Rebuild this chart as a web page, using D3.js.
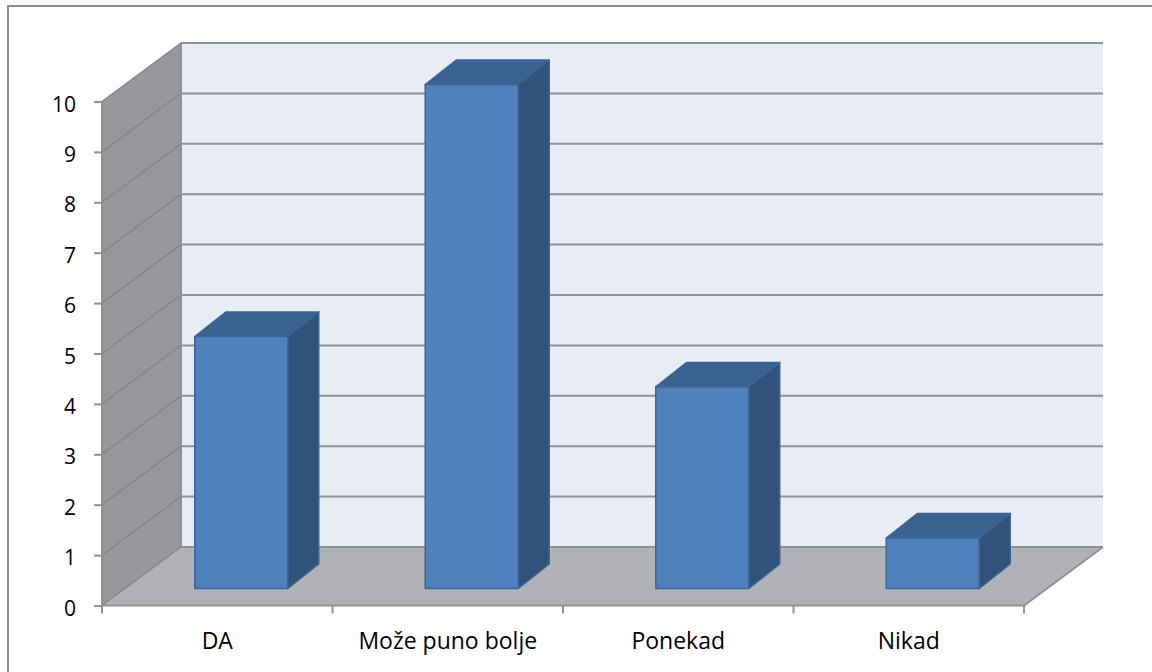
<!DOCTYPE html>
<html><head><meta charset="utf-8">
<script src="https://cdn.jsdelivr.net/npm/d3@7"></script>
<style>html,body{margin:0;padding:0;background:#fff}svg{display:block}text{font-family:"Open Sans",sans-serif;fill:#000}</style>
</head><body><svg id="c" width="1152" height="672"></svg>
<script>
const categories = ["DA", "Može puno bolje", "Ponekad", "Nikad"];
const values = [5, 10, 4, 1];
const yTicks = [0,1,2,3,4,5,6,7,8,9,10];

const svg = d3.select("#c");
const y = d3.scaleLinear().domain([0,10]).range([605.5,101.5]);
const x = d3.scaleBand().domain(categories).range([102,1024]).paddingInner(0).paddingOuter(0);
const depth = {dx:79, dy:-58.5};
const grid = "#8f9092";
const x0 = x.range()[0], x1 = x.range()[1];
const poly = (pts,fill)=>svg.append("polygon").attr("points",pts.map(p=>p.join(",")).join(" ")).attr("fill",fill);

// chart frame
svg.append("path").attr("fill","none").attr("stroke","#8a8a8a").attr("stroke-width",2)
  .attr("d","M8,672V6H1152");

// back wall, side wall, floor
poly([[x0+depth.dx,y(10)+depth.dy],[x1+depth.dx,y(10)+depth.dy],[x1+depth.dx,y(0)+depth.dy],[x0+depth.dx,y(0)+depth.dy]],"#e8ecf5");
poly([[x0,y(0)],[x0,y(10)],[x0+depth.dx,y(10)+depth.dy],[x0+depth.dx,y(0)+depth.dy]],"#96979a");
poly([[x0,y(0)],[x1,y(0)],[x1+depth.dx,y(0)+depth.dy],[x0+depth.dx,y(0)+depth.dy]],"#b0b2b6");

// gridlines
yTicks.forEach(t=>{
  svg.append("line").attr("stroke","#858688").attr("stroke-width",1.5)
    .attr("x1",x0).attr("y1",y(t)).attr("x2",x0+depth.dx).attr("y2",y(t)+depth.dy);
  svg.append("line").attr("stroke",grid).attr("stroke-width",2)
    .attr("x1",x0+depth.dx).attr("y1",y(t)+depth.dy).attr("x2",x1+depth.dx).attr("y2",y(t)+depth.dy);
});
svg.append("line").attr("x1",x0+depth.dx).attr("x2",x0+depth.dx).attr("y1",y(10)+depth.dy).attr("y2",y(0)+depth.dy).attr("stroke",grid).attr("stroke-width",2);
svg.append("line").attr("x1",x0).attr("x2",x0).attr("y1",y(10)).attr("y2",y(0)).attr("stroke",grid).attr("stroke-width",2);
svg.append("path").attr("fill","none").attr("stroke",grid).attr("stroke-width",2)
  .attr("d",`M${x0},${y(0)}L${x1},${y(0)}L${x1+depth.dx},${y(0)+depth.dy}`);

// axes
const ay = svg.append("g").attr("transform",`translate(${x0},0)`)
  .call(d3.axisLeft(y).tickValues(yTicks).tickFormat(d3.format("d")).tickSize(8).tickPadding(18));
ay.select(".domain").remove();
ay.selectAll("line").attr("stroke",grid).attr("stroke-width",2);
ay.selectAll("text").style("font-size","21px").attr("fill","#000").attr("dy","0.46em");

const edges = d3.range(categories.length+1).map(i=>x0+x.step()*i);
svg.append("g").selectAll("line").data(edges).join("line")
  .attr("x1",d=>d).attr("x2",d=>d).attr("y1",y(0)).attr("y2",y(0)+8).attr("stroke",grid).attr("stroke-width",2);
svg.append("g").selectAll("text").data(categories).join("text")
  .attr("x",d=>x(d)+x.bandwidth()/2).attr("y",649).attr("text-anchor","middle")
  .style("font-size","23px").text(d=>d);

// bars
const barW = 93, barShift = {dx:24, dy:-17}, barD = {dx:31, dy:-24.5};
const stroke = "#3a6594";
const bars = svg.append("g");
categories.forEach((c,i)=>{
  const l = x(c)+x.bandwidth()/2 - barW/2 + barShift.dx, r = l+barW;
  const b = y(0)+barShift.dy, t = y(values[i])+barShift.dy;
  const g = bars.append("g").attr("stroke",stroke).attr("stroke-width",1.5).attr("stroke-linejoin","round");
  g.append("polygon").attr("fill","#3b6290")
    .attr("points",[[l,t],[r,t],[r+barD.dx,t+barD.dy],[l+barD.dx,t+barD.dy]].join(" "));
  g.append("polygon").attr("fill","#31527a")
    .attr("points",[[r,t],[r+barD.dx,t+barD.dy],[r+barD.dx,b+barD.dy],[r,b]].join(" "));
  g.append("rect").attr("x",l).attr("y",t).attr("width",barW).attr("height",b-t).attr("fill","#4f81bd");
});
</script></body></html>
